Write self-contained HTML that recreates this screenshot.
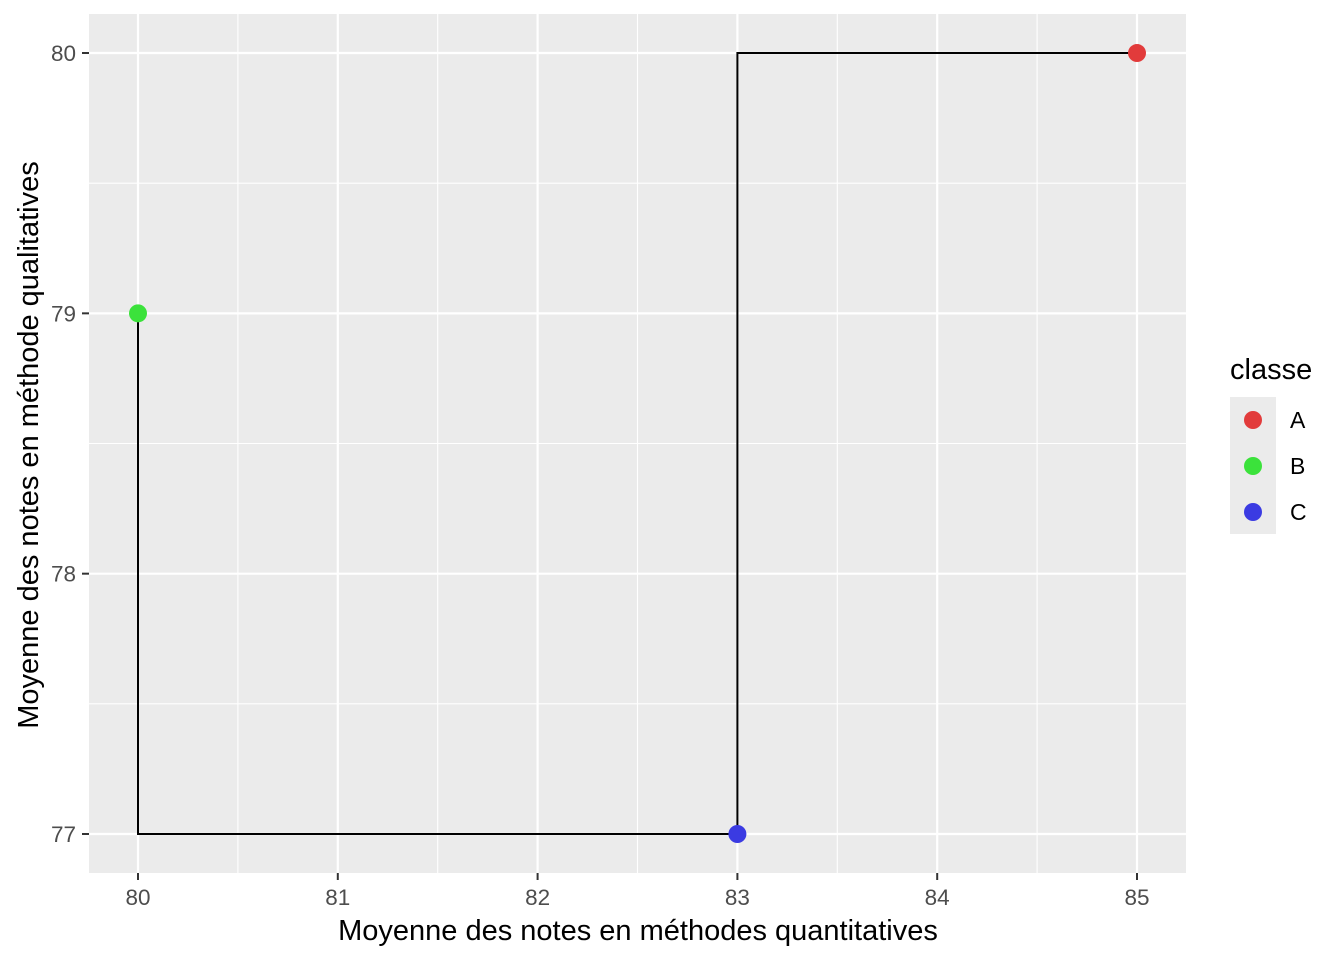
<!DOCTYPE html>
<html><head><meta charset="utf-8"><style>
body{margin:0;background:#fff;}
svg{display:block;font-family:"Liberation Sans",Arial,sans-serif;}
</style></head><body>
<svg id="chart" width="1344" height="960">
<rect x="89" y="14" width="1097" height="859" fill="#EBEBEB"/>
<g id="grid"></g>
<g id="marks"></g>
<g id="axes"></g>
<text x="638" y="940" text-anchor="middle" font-size="29" fill="#000">Moyenne des notes en méthodes quantitatives</text>
<text transform="translate(38,445) rotate(-90)" text-anchor="middle" font-size="29" fill="#000">Moyenne des notes en méthode qualitatives</text>
<g>
<text x="1230" y="379" font-size="29" fill="#000">classe</text>
<rect x="1230" y="397" width="46" height="137" fill="#EBEBEB"/>
<g id="legend"></g>
</g>
</svg>
<script>
const classes = ["A","B","C"];
const xValues = [85,80,83];
const yValues = [80,79,77];
const colors = ["#E23B3B","#3BE23B","#3B3BE2"];
const xTicks = [80,81,82,83,84,85];
const yTicks = [77,78,79,80];

const NS="http://www.w3.org/2000/svg";
const X=v=>138+(v-80)*199.8;
const Y=v=>834-(v-77)*260.33;
function mk(tag,attrs,parent){const e=document.createElementNS(NS,tag);for(const k in attrs)e.setAttribute(k,attrs[k]);parent.appendChild(e);return e;}
const grid=document.getElementById('grid'),axes=document.getElementById('axes'),marks=document.getElementById('marks'),legend=document.getElementById('legend');
for(let i=0;i<xTicks.length-1;i++){const m=(xTicks[i]+xTicks[i+1])/2;const l=mk('line',{x1:X(m),x2:X(m),y1:14,y2:873,stroke:'#fff','stroke-width':1.1},grid);

}
for(let i=0;i<yTicks.length-1;i++){const m=(yTicks[i]+yTicks[i+1])/2;const l=mk('line',{x1:89,x2:1186,y1:Y(m),y2:Y(m),stroke:'#fff','stroke-width':1.1},grid);

}
xTicks.forEach(t=>{const l=mk('line',{x1:X(t),x2:X(t),y1:14,y2:873,stroke:'#fff','stroke-width':2.2},grid);


const tk=mk('line',{x1:X(t),x2:X(t),y1:873,y2:880,stroke:'#333','stroke-width':2},axes);


const tx=mk('text',{x:X(t),y:905,'text-anchor':'middle','font-size':22.5,fill:'#4D4D4D'},axes);tx.textContent=t;

});
yTicks.forEach(t=>{const l=mk('line',{x1:89,x2:1186,y1:Y(t),y2:Y(t),stroke:'#fff','stroke-width':2.2},grid);


const tk=mk('line',{x1:82,x2:89,y1:Y(t),y2:Y(t),stroke:'#333','stroke-width':2},axes);


const tx=mk('text',{x:76,y:Y(t)+8,'text-anchor':'end','font-size':22.5,fill:'#4D4D4D'},axes);tx.textContent=t;

});
const idx=classes.map((c,i)=>i).sort((a,b)=>xValues[a]-xValues[b]);
let d='M'+X(xValues[idx[0]])+','+Y(yValues[idx[0]]);
for(let k=1;k<idx.length;k++){const p=idx[k-1],q=idx[k];d+=' L'+X(xValues[p])+','+Y(yValues[q])+' L'+X(xValues[q])+','+Y(yValues[q]);}
const path=mk('path',{d:d,fill:'none',stroke:'#000','stroke-width':2},marks);


classes.forEach((c,i)=>{const p=mk('circle',{cx:X(xValues[i]),cy:Y(yValues[i]),r:9,fill:colors[i]},marks);


const ly=420+i*46;
const lk=mk('circle',{cx:1253,cy:ly,r:9,fill:colors[i]},legend);


const lt=mk('text',{x:1290,y:ly+8,'font-size':23,fill:'#000'},legend);lt.textContent=c;

});
</script>
</body></html>
